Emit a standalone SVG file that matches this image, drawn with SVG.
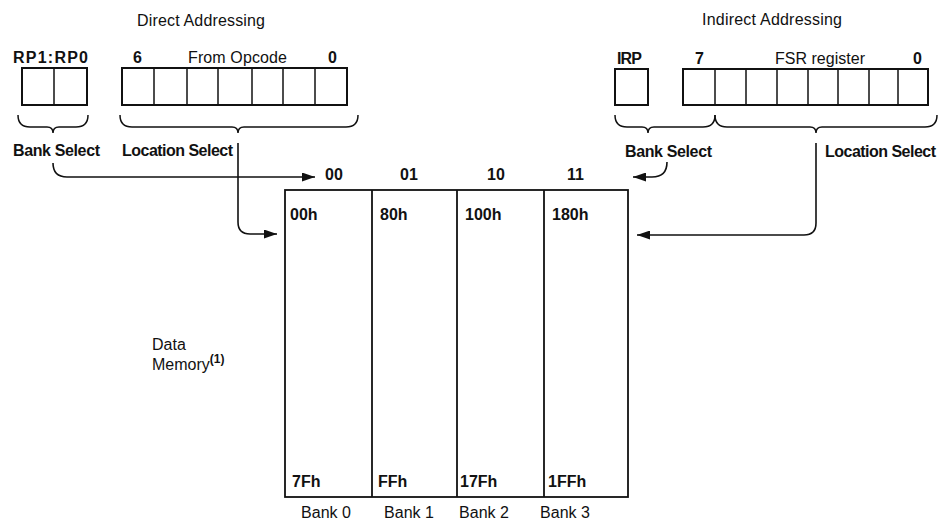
<svg xmlns="http://www.w3.org/2000/svg" width="938" height="524" viewBox="0 0 938 524">
<style>
text{font-family:"Liberation Sans",Arial,sans-serif;font-size:16px;fill:#111}
.b{font-weight:bold;font-size:16px}
.reg{fill:none;stroke:#111;stroke-width:2}
.cell{stroke:#111;stroke-width:1.5}
.brace{fill:none;stroke:#111;stroke-width:1.5}
.conn{fill:none;stroke:#111;stroke-width:1.6}
.mem{fill:none;stroke:#111;stroke-width:1.8}
</style>
<defs>
<marker id="ah" markerUnits="userSpaceOnUse" markerWidth="13" markerHeight="9" refX="13" refY="4.5" orient="auto">
<path d="M0,0 L13,4.5 L0,9 z" fill="#111"/>
</marker>
</defs>
<rect width="938" height="524" fill="#fff"/>

<g id="direct">
<text x="137" y="26" textLength="128">Direct Addressing</text>
<text class="b" x="13" y="63" textLength="75">RP1:RP0</text>
<text class="b" x="133" y="63">6</text>
<text x="188" y="63" textLength="99">From Opcode</text>
<text class="b" x="328" y="63">0</text>
<g id="rp-reg">
<rect class="reg" x="22" y="68" width="65" height="37"/>
<line class="cell" x1="54" y1="68" x2="54" y2="105"/>
</g>
<g id="opcode-reg">
<rect class="reg" x="122" y="68" width="225" height="37"/>
<line class="cell" x1="154" y1="68" x2="154" y2="105"/>
<line class="cell" x1="187" y1="68" x2="187" y2="105"/>
<line class="cell" x1="218" y1="68" x2="218" y2="105"/>
<line class="cell" x1="252" y1="68" x2="252" y2="105"/>
<line class="cell" x1="283" y1="68" x2="283" y2="105"/>
<line class="cell" x1="315" y1="68" x2="315" y2="105"/>
</g>
<path class="brace" d="M18,115 Q18,127 30,127 L47,127 Q53,127 53,133 Q53,127 59,127 L76,127 Q88,127 88,115"/>
<path class="brace" d="M120,115 Q120,127 132,127 L232,127 Q238,127 238,133 Q238,127 244,127 L346,127 Q358,127 358,115"/>
<text class="b" x="13" y="156" textLength="87">Bank Select</text>
<text class="b" x="122" y="156" textLength="111">Location Select</text>
</g>

<g id="indirect">
<text x="702" y="25" textLength="140">Indirect Addressing</text>
<text class="b" x="617" y="64" textLength="25">IRP</text>
<text class="b" x="695" y="64">7</text>
<text x="775" y="64" textLength="90">FSR register</text>
<text class="b" x="913" y="64">0</text>
<g id="irp-reg">
<rect class="reg" x="615" y="69" width="33" height="36"/>
</g>
<g id="fsr-reg">
<rect class="reg" x="683" y="69" width="245" height="36"/>
<line class="cell" x1="715" y1="69" x2="715" y2="105"/>
<line class="cell" x1="746" y1="69" x2="746" y2="105"/>
<line class="cell" x1="777" y1="69" x2="777" y2="105"/>
<line class="cell" x1="808" y1="69" x2="808" y2="105"/>
<line class="cell" x1="838" y1="69" x2="838" y2="105"/>
<line class="cell" x1="869" y1="69" x2="869" y2="105"/>
<line class="cell" x1="898" y1="69" x2="898" y2="105"/>
</g>
<path class="brace" d="M615,115 Q615,127 627,127 L642,127 Q648,127 648,133 Q648,127 654,127 L703,127 Q715,127 715,115"/>
<path class="brace" d="M715,115 Q715,127 727,127 L810,127 Q816,127 816,133 Q816,127 822,127 L925,127 Q937,127 937,115"/>
<text class="b" x="625" y="157" textLength="87">Bank Select</text>
<text class="b" x="825" y="157" textLength="111">Location Select</text>
</g>

<g id="connectors">
<path class="conn" d="M53,163 Q53,177 67,177 L315,177" marker-end="url(#ah)"/>
<path class="conn" d="M238,143 L238,222 Q238,234 250,234 L277,234" marker-end="url(#ah)"/>
<path class="conn" d="M667,162 Q667,177 652,177 L633,177" marker-end="url(#ah)"/>
<path class="conn" d="M816,143 L816,223 Q816,235 804,235 L637,235" marker-end="url(#ah)"/>
</g>

<g id="data-memory">
<rect class="mem" x="285" y="190" width="343" height="307"/>
<line class="mem" x1="372" y1="190" x2="372" y2="497"/>
<line class="mem" x1="457" y1="190" x2="457" y2="497"/>
<line class="mem" x1="544" y1="190" x2="544" y2="497"/>
<text class="b" x="325" y="180">00</text>
<text class="b" x="400" y="180">01</text>
<text class="b" x="487" y="180">10</text>
<text class="b" x="567" y="180">11</text>
<text class="b" x="290" y="220">00h</text>
<text class="b" x="380" y="220">80h</text>
<text class="b" x="465" y="220">100h</text>
<text class="b" x="552" y="220">180h</text>
<text class="b" x="292" y="487">7Fh</text>
<text class="b" x="378" y="487">FFh</text>
<text class="b" x="460" y="487">17Fh</text>
<text class="b" x="548" y="487">1FFh</text>
<text x="326" y="518" text-anchor="middle">Bank 0</text>
<text x="409" y="518" text-anchor="middle">Bank 1</text>
<text x="484" y="518" text-anchor="middle">Bank 2</text>
<text x="565" y="518" text-anchor="middle">Bank 3</text>
<text x="152" y="350">Data</text>
<text x="152" y="370">Memory<tspan font-size="12" font-weight="bold" dy="-7">(1)</tspan></text>
</g>
</svg>
